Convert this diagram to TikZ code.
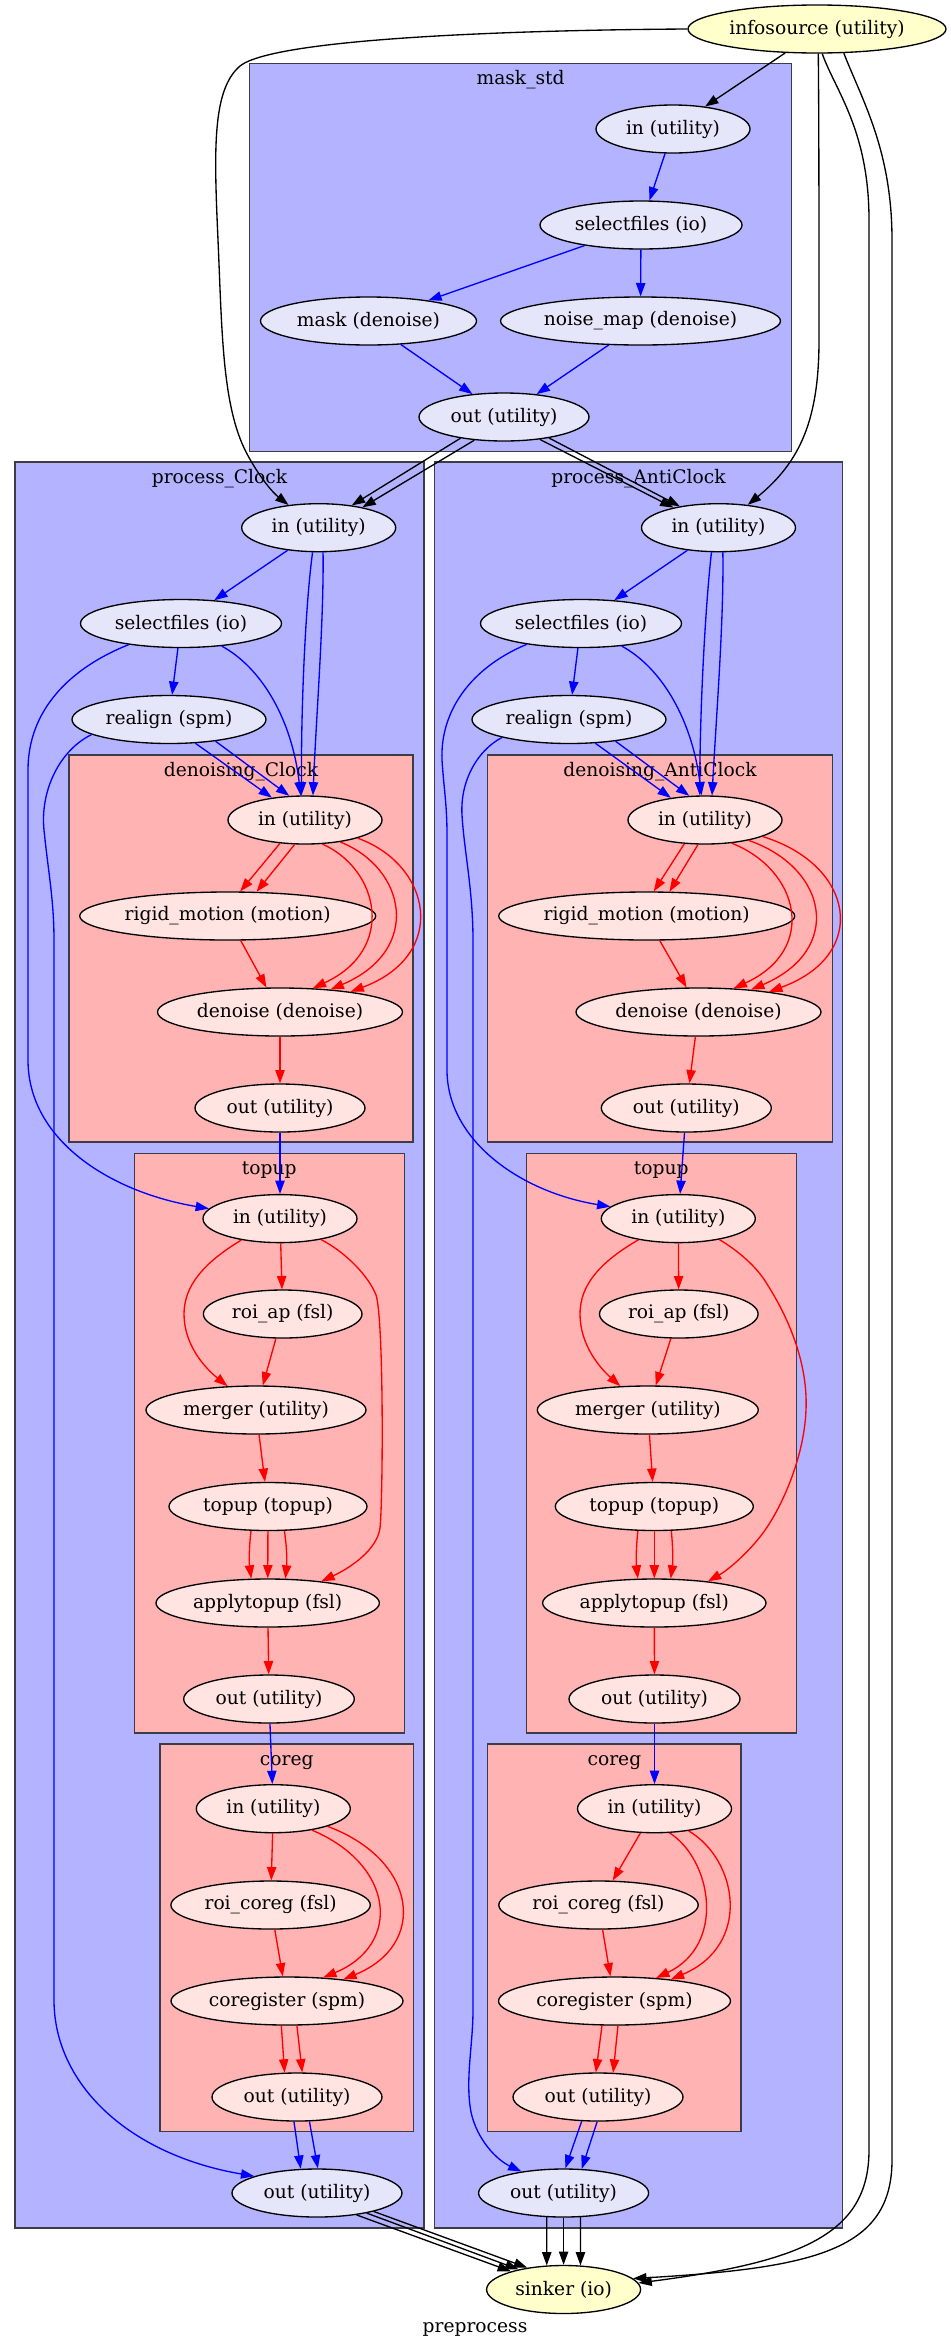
\documentclass[tikz,border=0pt]{standalone}
\usepackage{fontspec}
\setmainfont{DejaVu Serif}
\usetikzlibrary{shapes.geometric,arrows.meta}
\pgfdeclarelayer{background}
\pgfsetlayers{background,main}
\definecolor{clblue}{HTML}{B3B3FF}
\definecolor{clred}{HTML}{FFB3B3}
\definecolor{ndblue}{HTML}{E6E6FA}
\definecolor{ndred}{HTML}{FFE4E1}
\definecolor{ndyellow}{HTML}{FFFFCC}
\definecolor{clborder}{HTML}{3C3C46}
\begin{document}
\begin{tikzpicture}[x=0.75pt,y=-0.75pt,
  font=\fontsize{14pt}{16pt}\selectfont,
  every node/.style={inner sep=0pt},
  nd/.style={ellipse, draw=black, line width=1pt, minimum height=36pt, minimum width=1.5pt*#1},
  bnd/.style={nd=#1, fill=ndblue},
  rnd/.style={nd=#1, fill=ndred},
  ynd/.style={nd=#1, fill=ndyellow},
  clb/.style={draw=clborder, line width=0.9pt, fill=clblue},
  clr/.style={draw=clborder, line width=0.9pt, fill=clred},
  ctitle/.style={anchor=base},
  edge/.style={line width=1pt, -{Triangle[length=10pt,width=7pt]}},
  eb/.style={edge, draw=blue},
  er/.style={edge, draw=red},
  ek/.style={edge, draw=black},
]
\useasboundingbox (0,0) rectangle (950,2349);

% ---------- clusters ----------
\begin{pgfonlayer}{background}
  \draw[clb] (249.5,63.3) rectangle (791.8,451.7);
  \draw[clb] (15,462) rectangle (424,2228);
  \draw[clb] (434.5,462) rectangle (842.5,2228);
  \draw[clr] (69,755) rectangle (413,1142);
  \draw[clr] (487.7,755) rectangle (832.3,1142);
  \draw[clr] (134.3,1153.4) rectangle (404.3,1733);
  \draw[clr] (526.3,1153.4) rectangle (796.3,1733);
  \draw[clr] (160,1744) rectangle (413.3,2131.6);
  \draw[clr] (487.7,1744) rectangle (741,2131.6);
  \node[ctitle] (t_mask) at (520.6,84) {mask\_std};
  \node[ctitle] (t_pc) at (219.5,483) {process\_Clock};
  \node[ctitle] (t_pa) at (638.5,483) {process\_AntiClock};
  \node[ctitle] (t_dc) at (241,776) {denoising\_Clock};
  \node[ctitle] (t_da) at (660,776) {denoising\_AntiClock};
  \node[ctitle] (t_tc) at (269.3,1174.4) {topup};
  \node[ctitle] (t_ta) at (661.3,1174.4) {topup};
  \node[ctitle] (t_cc) at (286.7,1765) {coreg};
  \node[ctitle] (t_ca) at (614.4,1765) {coreg};
\end{pgfonlayer}

% ---------- nodes ----------
\node[ynd=129] (src) at (817,29) {infosource (utility)};
\node[ynd=77] (sink) at (563.6,2289.5) {sinker (io)};
\node[anchor=base] (title) at (475,2332) {preprocess};

\node[bnd=77] (m_in) at (673,129) {in (utility)};
\node[bnd=101] (m_sel) at (641,225) {selectfiles (io)};
\node[bnd=108] (m_mask) at (368.5,321) {mask (denoise)};
\node[bnd=140] (m_noise) at (640.5,321) {noise\_map (denoise)};
\node[bnd=85] (m_out) at (504,417) {out (utility)};

\node[bnd=77] (c_in) at (318.7,527.7) {in (utility)};
\node[bnd=100.5] (c_sel) at (181,623.5) {selectfiles (io)};
\node[bnd=97] (c_real) at (169,719.5) {realign (spm)};
\node[rnd=77] (cd_in) at (305,820) {in (utility)};
\node[rnd=148] (cd_rigid) at (227.7,916) {rigid\_motion (motion)};
\node[rnd=122.5] (cd_den) at (280,1012) {denoise (denoise)};
\node[rnd=85] (cd_out) at (280,1108) {out (utility)};
\node[rnd=77] (ct_in) at (280,1218.6) {in (utility)};
\node[rnd=79.3] (ct_roi) at (282.7,1314) {roi\_ap (fsl)};
\node[rnd=110] (ct_merge) at (256,1410) {merger (utility)};
\node[rnd=99] (ct_topup) at (268,1506.5) {topup (topup)};
\node[rnd=111.7] (ct_apply) at (267.7,1603) {applytopup (fsl)};
\node[rnd=85.3] (ct_out) at (269,1699) {out (utility)};
\node[rnd=77] (cc_in) at (273.3,1808.7) {in (utility)};
\node[rnd=99.7] (cc_roi) at (270.6,1905) {roi\_coreg (fsl)};
\node[rnd=116] (cc_coreg) at (287,2001) {coregister (spm)};
\node[rnd=85] (cc_out) at (297,2097) {out (utility)};
\node[bnd=85] (c_out) at (317,2193) {out (utility)};

\node[bnd=77] (a_in) at (718.5,527.7) {in (utility)};
\node[bnd=100.5] (a_sel) at (581,623.5) {selectfiles (io)};
\node[bnd=97] (a_real) at (569,719.5) {realign (spm)};
\node[rnd=77] (ad_in) at (705,820) {in (utility)};
\node[rnd=148] (ad_rigid) at (646.7,916) {rigid\_motion (motion)};
\node[rnd=122.5] (ad_den) at (698.5,1012) {denoise (denoise)};
\node[rnd=85] (ad_out) at (686.3,1108) {out (utility)};
\node[rnd=77] (at_in) at (678.3,1218.6) {in (utility)};
\node[rnd=79.3] (at_roi) at (678.8,1314) {roi\_ap (fsl)};
\node[rnd=110.5] (at_merge) at (647.8,1410) {merger (utility)};
\node[rnd=99] (at_topup) at (654.3,1506.5) {topup (topup)};
\node[rnd=111.7] (at_apply) at (654.3,1603) {applytopup (fsl)};
\node[rnd=85.5] (at_out) at (654.5,1699) {out (utility)};
\node[rnd=77] (ac_in) at (654.5,1808.7) {in (utility)};
\node[rnd=99.7] (ac_roi) at (598.5,1905) {roi\_coreg (fsl)};
\node[rnd=116] (ac_coreg) at (614.5,2001) {coregister (spm)};
\node[rnd=85] (ac_out) at (598,2097) {out (utility)};
\node[bnd=85] (a_out) at (563.6,2193) {out (utility)};

% ---------- mask_std ----------
\draw[ek] (src.217) -- (m_in.35);
\draw[eb] (m_in.252) -- (m_sel.71);
\draw[eb] (m_sel.200) -- (m_mask.19);
\draw[eb] (m_sel) -- (m_noise);
\draw[eb] (m_mask.-36) -- (m_out.144);
\draw[eb] (m_noise.217) -- (m_out.35);
\draw[ek] (m_out.206) -- (c_in.34);
\draw[ek] (m_out.218) -- (c_in.25);
\draw[ek] (m_out.-32) -- (a_in.156);
\draw[ek] (m_out.-25) -- (a_in.151);

% ---------- infosource long edges ----------
\draw[ek] (src.180) .. controls (520,30) and (275,38) .. (240,66)
  .. controls (212,90) and (214,150) .. (218,240)
  .. controls (222,330) and (222,405) .. (246,452)
  .. controls (258,475) and (272,492) .. (c_in.143);
\draw[ek] (src.273) .. controls (819,120) and (819,250) .. (819,340)
  .. controls (819,420) and (800,462) .. (a_in.38);
\draw[ek] (src.282) .. controls (835,90) and (869,130) .. (869,220) -- (869,2150)
  .. controls (869,2235) and (800,2262) .. (sink.5);
\draw[ek] (src.-42) .. controls (862,100) and (892,150) .. (892,240) -- (892,2160)
  .. controls (892,2250) and (815,2268) .. (sink.9);

% ---------- process_Clock ----------
\draw[eb] (c_in.216) -- (c_sel.35);
\draw[eb] (c_in.256) .. controls (306,600) and (301,700) .. (cd_in.98);
\draw[eb] (c_in.280) .. controls (324,620) and (316,720) .. (cd_in.72);
\draw[eb] (c_sel) -- (c_real);
\draw[eb] (c_sel.-29) .. controls (262,668) and (292,720) .. (cd_in.100);
\draw[eb] (c_sel.202) .. controls (70,668) and (28,710) .. (28,770) -- (28,1060)
  .. controls (28,1140) and (110,1192) .. (ct_in.172);
\draw[eb] (c_real.-42) -- (cd_in.146);
\draw[eb] (c_real.-25) -- (cd_in.123);
\draw[eb] (c_real.191) .. controls (60,750) and (40,790) .. (44,830)
  .. controls (48,870) and (54,900) .. (54,940) -- (54,2000)
  .. controls (54,2085) and (130,2155) .. (c_out.165);

\draw[er] (cd_in.223) -- (cd_rigid.63);
\draw[er] (cd_in.247) -- (cd_rigid.40);
\draw[er] (cd_in.-54) .. controls (380,870) and (396,950) .. (cd_den.36);
\draw[er] (cd_in.-32) .. controls (406,868) and (423,950) .. (cd_den.24);
\draw[er] (cd_in.-19) .. controls (432,865) and (449,955) .. (cd_den.16);
\draw[er] (cd_rigid.-62) -- (cd_den.119);
\draw[er] (cd_den) -- (cd_out);
\draw[eb] (cd_out) -- (ct_in);

\draw[er] (ct_in) -- (ct_roi);
\draw[er] (ct_in.209) .. controls (205,1262) and (184,1285) .. (184,1314)
  .. controls (184,1345) and (205,1368) .. (ct_merge.140);
\draw[er] (ct_roi) -- (ct_merge);
\draw[er] (ct_in.-27) .. controls (345,1252) and (368,1275) .. (376,1295)
  .. controls (384,1320) and (383,1500) .. (380,1528)
  .. controls (377,1550) and (350,1568) .. (ct_apply.22);
\draw[er] (ct_merge) -- (ct_topup);
\draw[er] (ct_topup.235) .. controls (249,1548) and (249,1562) .. (ct_apply.124);
\draw[er] (ct_topup) -- (ct_apply);
\draw[er] (ct_topup.304) .. controls (287,1548) and (287,1562) .. (ct_apply.54);
\draw[er] (ct_apply) -- (ct_out);
\draw[eb] (ct_out) -- (cc_in);

\draw[er] (cc_in) -- (cc_roi);
\draw[er] (cc_in.-29) .. controls (395,1865) and (402,1945) .. (cc_coreg.33);
\draw[er] (cc_in.-18) .. controls (418,1860) and (428,1945) .. (cc_coreg.21);
\draw[er] (cc_roi) -- (cc_coreg);
\draw[er] (cc_coreg.257) -- (cc_out.117);
\draw[er] (cc_coreg.292) -- (cc_out.78);
\draw[eb] (cc_out.263) -- (c_out.124);
\draw[eb] (cc_out.297) -- (c_out.88);
\draw[ek] (c_out.-29) -- (sink.161);
\draw[ek] (c_out.-22) -- (sink.156);
\draw[ek] (c_out.-18) -- (sink.149);

% ---------- process_AntiClock ----------
\draw[eb] (a_in.216) -- (a_sel.35);
\draw[eb] (a_in.254) .. controls (706,600) and (700,700) .. (ad_in.102);
\draw[eb] (a_in.280) .. controls (724,620) and (716,720) .. (ad_in.74);
\draw[eb] (a_sel) -- (a_real);
\draw[eb] (a_sel.-29) .. controls (662,668) and (692,720) .. (ad_in.98);
\draw[eb] (a_sel.201) .. controls (470,668) and (440,712) .. (442,760)
  .. controls (444,790) and (447,805) .. (447,835) -- (447,1070)
  .. controls (447,1140) and (520,1192) .. (at_in.170);
\draw[eb] (a_real.-42) -- (ad_in.147);
\draw[eb] (a_real.-25) -- (ad_in.123);
\draw[eb] (a_real.195) .. controls (478,750) and (460,780) .. (462,815)
  .. controls (464,850) and (473,890) .. (473,940) -- (473,2010)
  .. controls (473,2045) and (465,2080) .. (471,2112)
  .. controls (477,2140) and (497,2160) .. (a_out.153);

\draw[er] (ad_in.229) -- (ad_rigid.74);
\draw[er] (ad_in.254) -- (ad_rigid.47);
\draw[er] (ad_in.-41) .. controls (800,870) and (818,950) .. (ad_den.34);
\draw[er] (ad_in.-25) .. controls (828,868) and (844,950) .. (ad_den.23);
\draw[er] (ad_in.-16) .. controls (855,865) and (870,955) .. (ad_den.16);
\draw[er] (ad_rigid.-62) -- (ad_den.116);
\draw[er] (ad_den) -- (ad_out);
\draw[eb] (ad_out) -- (at_in);

\draw[er] (at_in) -- (at_roi);
\draw[er] (at_in.208) .. controls (600,1262) and (580,1285) .. (580,1314)
  .. controls (580,1345) and (600,1368) .. (at_merge.139);
\draw[er] (at_roi) -- (at_merge);
\draw[er] (at_in.-27) .. controls (745,1255) and (760,1272) .. (767,1284)
  .. controls (790,1320) and (808,1365) .. (806,1410)
  .. controls (804,1460) and (780,1510) .. (763,1533)
  .. controls (748,1553) and (728,1570) .. (at_apply.22);
\draw[er] (at_merge) -- (at_topup);
\draw[er] (at_topup.236) .. controls (636,1548) and (636,1562) .. (at_apply.124);
\draw[er] (at_topup) -- (at_apply);
\draw[er] (at_topup.305) .. controls (673,1548) and (673,1562) .. (at_apply.56);
\draw[er] (at_apply) -- (at_out);
\draw[eb] (at_out) -- (ac_in);

\draw[er] (ac_in) -- (ac_roi);
\draw[er] (ac_in.-58) .. controls (712,1860) and (726,1945) .. (ac_coreg.29);
\draw[er] (ac_in.-33) .. controls (738,1860) and (752,1945) .. (ac_coreg.21);
\draw[er] (ac_roi) -- (ac_coreg);
\draw[er] (ac_coreg.243) -- (ac_out.95);
\draw[er] (ac_coreg.278) -- (ac_out.58);
\draw[eb] (ac_out.236) -- (a_out.86);
\draw[eb] (ac_out.268) -- (a_out.53);
\draw[ek] (a_out.235) -- (sink.125);
\draw[ek] (a_out) -- (sink);
\draw[ek] (a_out.305) -- (sink.55);
\end{tikzpicture}
\end{document}
